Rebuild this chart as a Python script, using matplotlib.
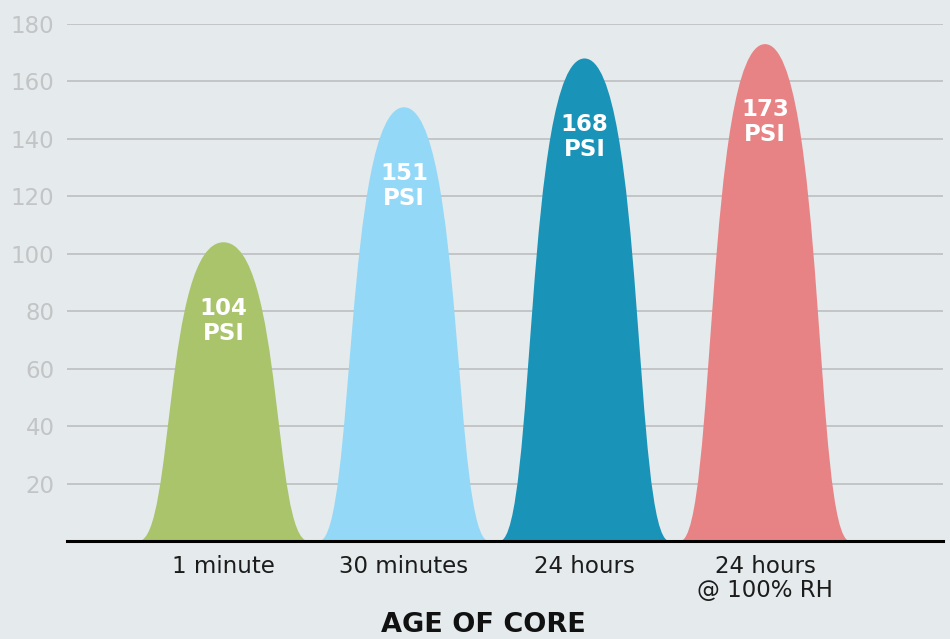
import matplotlib
matplotlib.use("Agg")
import matplotlib.pyplot as plt
from matplotlib.path import Path
from matplotlib.patches import PathPatch

categories = ["1 minute", "30 minutes", "24 hours", "24 hours\n@ 100% RH"]
values = [104, 151, 168, 173]
value_labels = ["104", "151", "168", "173"]
unit_label = "PSI"
colors = ["#a9c46b", "#93d8f7", "#1a93b8", "#e88385"]
y_ticks = [20, 40, 60, 80, 100, 120, 140, 160, 180]
x_title = "AGE OF CORE"

plt.rcParams['font.family'] = ['DejaVu Sans']

W, H = 950, 639
fig = plt.figure(figsize=(W / 100, H / 100), dpi=100)
bg = "#e5eaec"
fig.patch.set_facecolor(bg)

ax_l, ax_r, ax_b, ax_t = 67, 943, 541, 24
ax = fig.add_axes([ax_l / W, (H - ax_b) / H, (ax_r - ax_l) / W, (ax_b - ax_t) / H])
ax.set_facecolor(bg)
ax.set_xlim(-0.867, 3.986)
ax.set_ylim(0, 180)

# bell-shaped peaks (cubic Bezier halves)
half_w, foot, shoulder = 0.47, 0.198, 0.332
for i, (v, c) in enumerate(zip(values, colors)):
    verts = [
        (i - half_w, 0),
        (i - half_w + foot, 0), (i - shoulder, v), (i, v),
        (i + shoulder, v), (i + half_w - foot, 0), (i + half_w, 0),
        (i - half_w, 0),
    ]
    codes = [Path.MOVETO,
             Path.CURVE4, Path.CURVE4, Path.CURVE4,
             Path.CURVE4, Path.CURVE4, Path.CURVE4,
             Path.CLOSEPOLY]
    ax.add_patch(PathPatch(Path(verts, codes), facecolor=c, edgecolor="none", zorder=2))
    ax.annotate(value_labels[i], xy=(i, v), xytext=(0, -52), textcoords="offset points",
                ha="center", va="baseline", color="white", fontsize=16.5, fontweight="bold", zorder=3)
    ax.annotate(unit_label, xy=(i, v), xytext=(0, -70), textcoords="offset points",
                ha="center", va="baseline", color="white", fontsize=16.5, fontweight="bold", zorder=3)

ax.set_yticks(y_ticks)
ax.set_yticklabels([str(t) for t in y_ticks])
ax.tick_params(axis="y", length=0, pad=9, labelsize=16.5, labelcolor="#c2c4c5")
ax.yaxis.grid(True, color="#c3c4c5", linewidth=1.4)
ax.set_axisbelow(True)

ax.set_xticks(range(len(categories)))
ax.set_xticklabels(categories, linespacing=1.07)
ax.tick_params(axis="x", length=0, pad=10, labelsize=16.5, labelcolor="#1c1c1c")

for s in ["left", "right", "top"]:
    ax.spines[s].set_visible(False)
ax.spines["bottom"].set_color("black")
ax.spines["bottom"].set_linewidth(2.2)
ax.spines["bottom"].set_zorder(4)

fig.text(483 / W, 1 - 625 / H, x_title, ha="center", va="center",
         fontsize=19.5, fontweight="bold", color="#111111")

fig.savefig("out.png", dpi=100, facecolor=bg)
